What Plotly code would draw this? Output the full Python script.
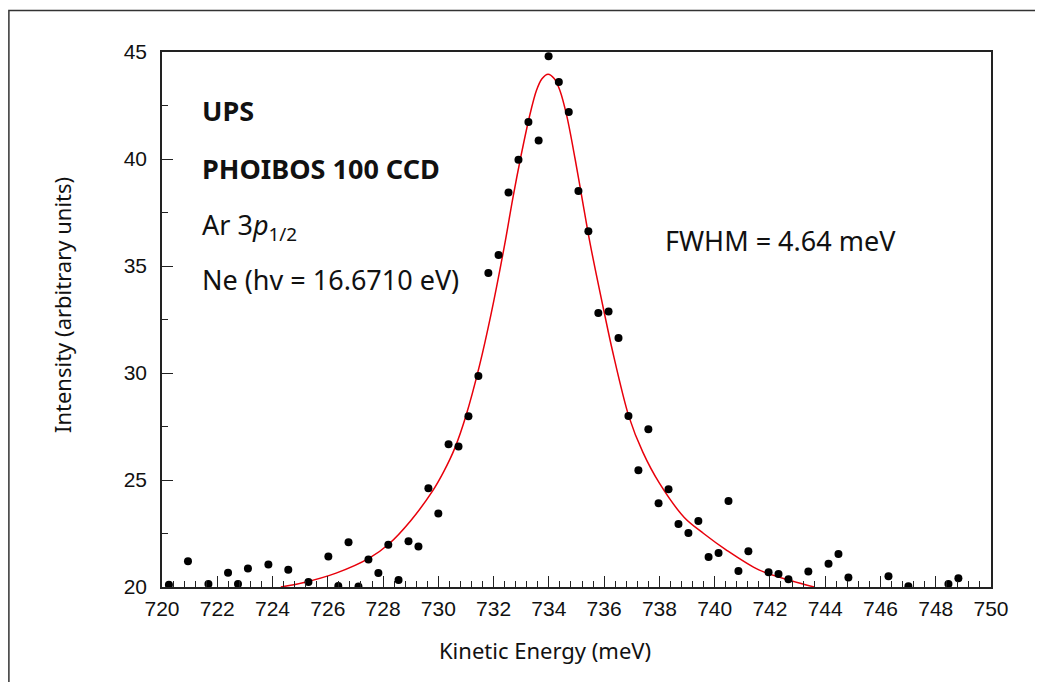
import plotly.graph_objects as go

# Measured data points (Kinetic Energy in meV, Intensity in arbitrary units)
energy = [720.25, 720.94, 721.68, 722.39, 722.75, 723.11, 723.85, 724.57, 725.30,
          726.02, 726.38, 726.75, 727.11, 727.47, 727.83, 728.19, 728.56, 728.92,
          729.28, 729.64, 730.00, 730.37, 730.73, 731.09, 731.45, 731.81, 732.18,
          732.54, 732.90, 733.26, 733.63, 733.99, 734.36, 734.72, 735.07, 735.43,
          735.79, 736.16, 736.52, 736.88, 737.24, 737.60, 737.97, 738.33, 738.69,
          739.05, 739.41, 739.78, 740.14, 740.50, 740.86, 741.22, 741.95, 742.31,
          742.67, 743.39, 744.12, 744.48, 744.84, 746.29, 747.01, 748.46, 748.82]
intensity = [20.10, 21.20, 20.14, 20.67, 20.14, 20.86, 21.05, 20.81, 20.23,
             21.43, 20.05, 22.09, 20.02, 21.29, 20.65, 21.98, 20.33, 22.14,
             21.89, 24.61, 23.43, 26.67, 26.57, 27.98, 29.86, 34.67, 35.51,
             38.43, 39.97, 41.73, 40.87, 44.80, 43.60, 42.20, 38.50, 36.62,
             32.80, 32.87, 31.64, 27.99, 25.45, 27.37, 23.91, 24.57, 22.94,
             22.52, 23.08, 21.40, 21.59, 24.02, 20.75, 21.67, 20.69, 20.61,
             20.36, 20.72, 21.09, 21.54, 20.44, 20.50, 20.03, 20.14, 20.41]

# Fitted curve
fit_energy = [724.3, 725.1, 726.3, 727.5, 728.2, 729.0, 729.8, 730.2, 730.6, 731.0,
              731.5, 731.9, 732.4, 732.7, 733.0, 733.3, 733.55, 733.75, 733.97,
              734.2, 734.4, 734.65, 734.95, 735.25, 735.5, 736.0, 736.3, 736.9,
              737.4, 738.0, 738.9, 739.6, 740.4, 741.6, 742.8, 743.6]
fit_intensity = [20.0, 20.2, 20.65, 21.35, 22.0, 23.1, 24.5, 25.4, 26.5, 28.0,
                 30.4, 32.7, 36.0, 38.2, 40.2, 42.0, 43.2, 43.75, 43.96,
                 43.75, 43.2, 42.0, 40.0, 37.8, 36.0, 32.85, 31.05, 27.95,
                 26.3, 24.85, 23.25, 22.5, 21.75, 20.8, 20.28, 20.0]

x_ticks = [720, 722, 724, 726, 728, 730, 732, 734, 736, 738, 740, 742, 744, 746, 748, 750]
y_ticks = [20, 25, 30, 35, 40, 45]

W, H = 1043, 682
OFF = 8  # page body margin: screenshot px = figure px + OFF
ML, MT = 162 - OFF, 52 - OFF
pw, ph = 829.5, 535
MR, MB = W - ML - pw, H - MT - ph

TEXT_FONT = "Noto Sans"
TICK_FONT = "Liberation Sans"

fig = go.Figure()
fig.add_trace(go.Scatter(x=fit_energy, y=fit_intensity, mode="lines",
                         line=dict(color="#e8000b", width=1.5, shape="spline", smoothing=0.9),
                         hoverinfo="skip", showlegend=False))
fig.add_trace(go.Scatter(x=energy, y=intensity, mode="markers",
                         marker=dict(color="black", size=8),
                         showlegend=False, cliponaxis=True))

axis_common = dict(showline=True, linecolor="#222", linewidth=1.5, mirror=True,
                   ticks="inside", ticklen=11, tickwidth=1, tickcolor="#222",
                   showgrid=False, zeroline=False,
                   tickfont=dict(family=TICK_FONT, size=21, color="#111"))

fig.update_xaxes(range=[720, 750], tickvals=x_ticks, ticklabelstandoff=2,
                 minor=dict(dtick=0.4, tick0=720, ticklen=6, ticks="inside", tickcolor="#222"),
                 **axis_common)
fig.update_yaxes(range=[20, 45], tickvals=y_ticks, ticklabelstandoff=9,
                 minor=dict(dtick=2.5, tick0=20, ticklen=6, ticks="inside", tickcolor="#222"),
                 **axis_common)

def px_to_paper_x(px):
    return (px - OFF - ML) / pw

def px_to_paper_y(py):
    return 1 - (py - OFF - MT) / ph

annotations = [
    dict(text="<b>UPS</b>", x=721.36, y=42.25, size=27),
    dict(text="<b>PHOIBOS 100 CCD</b>", x=721.36, y=39.55, size=27),
    dict(text="Ar 3<i>p</i><sub>1/2</sub>", x=721.36, y=36.85, size=27),
    dict(text="Ne (hv = 16.6710 eV)", x=721.36, y=34.35, size=27),
    dict(text="FWHM = 4.64 meV", x=738.12, y=36.2, size=27),
]
for a in annotations:
    fig.add_annotation(text=a["text"], x=a["x"], y=a["y"], xref="x", yref="y",
                       xanchor="left", yanchor="middle", showarrow=False,
                       font=dict(family=TEXT_FONT, size=a["size"], color="#111"))

fig.add_annotation(text="Kinetic Energy (meV)", x=px_to_paper_x(545.5), y=px_to_paper_y(650),
                   xref="paper", yref="paper", xanchor="center", yanchor="middle",
                   showarrow=False, font=dict(family=TEXT_FONT, size=22, color="#111"))
fig.add_annotation(text="Intensity (arbitrary units)", x=px_to_paper_x(62), y=px_to_paper_y(305),
                   xref="paper", yref="paper", xanchor="center", yanchor="middle",
                   textangle=-90, showarrow=False,
                   font=dict(family=TEXT_FONT, size=22, color="#111"))

# outer frame
fig.add_shape(type="rect", xref="paper", yref="paper",
              x0=px_to_paper_x(8.8), x1=px_to_paper_x(1049), y0=px_to_paper_y(700), y1=px_to_paper_y(10.5),
              line=dict(color="#333", width=1.5), layer="below")

fig.update_layout(width=W, height=H, margin=dict(l=ML, r=MR, t=MT, b=MB),
                  plot_bgcolor="white", paper_bgcolor="white")

fig.write_html("out.html")
